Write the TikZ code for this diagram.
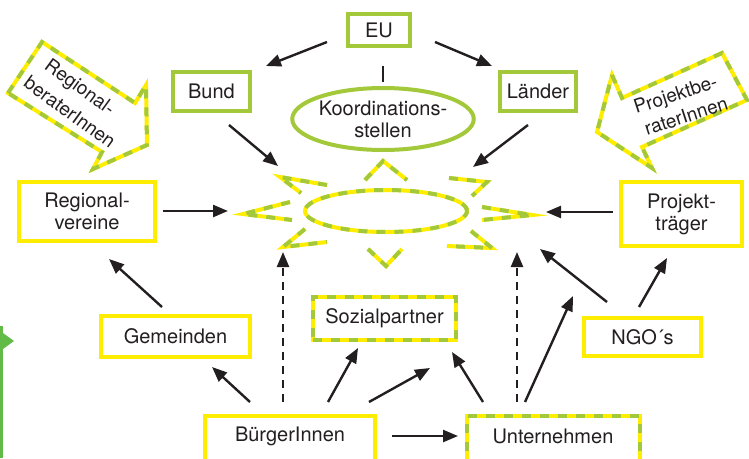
\documentclass[tikz,border=0pt]{standalone}
\usepackage{fontspec}
\setmainfont{TeX Gyre Heros}
\usetikzlibrary{arrows.meta,shapes.geometric}
\definecolor{yel}{RGB}{255,237,0}
\definecolor{grn}{RGB}{163,201,58}
\definecolor{dgrn}{RGB}{98,187,70}
\definecolor{ink}{RGB}{35,31,32}
\begin{document}
\begin{tikzpicture}[x=1pt,y=-1pt,
  lbl/.style={font=\fontsize{20}{22}\selectfont, text=ink, align=center},
  rlbl/.style={font=\fontsize{19}{22}\selectfont, text=ink, inner sep=0pt},
  ybox/.style={draw=yel, line width=4pt, fill=white, rectangle, inner sep=0pt, lbl},
  gbox/.style={draw=grn, line width=4pt, fill=white, rectangle, inner sep=0pt, lbl},
  dashgy/.style={draw=yel, line width=4pt, postaction={draw=grn, line width=4pt, dash pattern=on 9pt off 9pt}},
  dbox/.style={dashgy, fill=white, rectangle, inner sep=0pt, lbl},
  arr/.style={-{Triangle[length=15pt,width=12pt]}, line width=2.4pt, draw=ink},
  darr/.style={arr, dash pattern=on 8pt off 6pt},
  ray/.style={dashgy, line join=miter}
]
\useasboundingbox (0,0) rectangle (749,458);

% left green bar
\fill[dgrn] (0,326) rectangle (3,458);
\fill[dgrn] (3,333) -- (14,341) -- (3,349) -- cycle;

% big arrows
\draw[dashgy, fill=white] (8,93) -- (42,42) -- (135,103) -- (146,85) -- (147,145) -- (93,169) -- (102,152) -- cycle;
\node[rlbl, rotate=-36] (regber1) at (79,88) {Regional-};
\node[rlbl, rotate=-36] (regber2) at (70,112) {beraterInnen};
\draw[dashgy, fill=white] (612,75) -- (622,98) -- (722,53) -- (747,100) -- (642,147) -- (652,168) -- (597,132) -- cycle;
\node[rlbl, rotate=18] (projber1) at (676,96) {Projektbe-};
\node[rlbl, rotate=18] (projber2) at (686,116) {raterInnen};

% top nodes
\node[gbox, minimum width=62, minimum height=32] (eu) at (379,30) {EU};
\node[gbox, minimum width=77, minimum height=39] (bund) at (211.5,91.5) {Bund};
\node[gbox, minimum width=76, minimum height=39] (laender) at (538,91.5) {Länder};
\node[draw=grn, line width=4pt, ellipse, fill=white, inner sep=0pt, minimum width=170, minimum height=62, lbl] (koord) at (383,119) {Koordinations-\\stellen};

% sun
\node[dashgy, ellipse, minimum width=162, minimum height=42, inner sep=0pt] (sun) at (386,211) {};
\draw[ray] (365,180) -- (383,161) -- (407,180);
\draw[ray] (368,249) -- (386,266) -- (402,249);
\draw[ray] (290,202) -- (243,214) -- (292,220);
\draw[ray] (482,207) -- (532,215) -- (482,220);
\draw[ray] (327,185) -- (280,177) -- (301,193);
\draw[ray] (305,229) -- (283,247) -- (327,242);
\draw[ray] (449,178) -- (487,182) -- (472,196);
\draw[ray] (471,231) -- (492,248) -- (447,246);

% side nodes
\node[ybox, minimum width=136, minimum height=59] (regv) at (87,211.5) {Regional-\\vereine};
\node[ybox, minimum width=121, minimum height=64] (projt) at (681.5,214) {Projekt-\\träger};
\node[ybox, minimum width=149, minimum height=41] (gem) at (175.5,336) {Gemeinden};
\node[dbox, minimum width=143, minimum height=43] (sozial) at (384.5,318.5) {Sozialpartner};
\node[ybox, minimum width=117, minimum height=38] (ngo) at (642.5,337) {NGO´s};

% bottom nodes
\node[ybox, minimum width=170, minimum height=60, anchor=north] (buerger) at (290,414) {};
\node[lbl] (buergerT) at (290,436) {BürgerInnen};
\node[dbox, minimum width=173, minimum height=60, anchor=north] (untern) at (553,414) {};
\node[lbl] (game) at (553,436) {Unternehmen};

% connector end points
\coordinate (euL) at (327,42);   \coordinate (bundT) at (266,66);
\coordinate (euR) at (435,42);   \coordinate (laenT) at (492,66);
\coordinate (euB) at (383,66);   \coordinate (koT) at (383,82);
\coordinate (bundB) at (229,125); \coordinate (sunNW) at (278,166);
\coordinate (laenB) at (528,125); \coordinate (sunNE) at (473,167);
\coordinate (regvR) at (163,211); \coordinate (sunW) at (228,211);
\coordinate (projL) at (613,212); \coordinate (sunE) at (546,212);
\coordinate (gemT) at (162,307); \coordinate (regvB) at (109,259);
\coordinate (bu1) at (250,402);  \coordinate (gemB) at (212,367);
\coordinate (bu2) at (283,402);  \coordinate (sunSW) at (283,252);
\coordinate (bu3) at (328,402);  \coordinate (sozB1) at (358,348);
\coordinate (bu4) at (369,402);  \coordinate (sozB2) at (430,368);
\coordinate (buR) at (392,436);  \coordinate (unL) at (458,436);
\coordinate (un1) at (483,402);  \coordinate (sozB3) at (452,352);
\coordinate (un2) at (517,402);  \coordinate (sunSE) at (517,252);
\coordinate (un3) at (525,402);  \coordinate (ngoW) at (573,296);
\coordinate (ngo1) at (607,302); \coordinate (sunSE2) at (540,249);
\coordinate (ngo2) at (639,307); \coordinate (projB) at (667,258);

\draw[arr] (euL) -- (bundT);
\draw[arr] (euR) -- (laenT);
\draw[line width=2.4pt, draw=ink] (euB) -- (koT);
\draw[arr] (bundB) -- (sunNW);
\draw[arr] (laenB) -- (sunNE);
\draw[arr] (regvR) -- (sunW);
\draw[arr] (projL) -- (sunE);
\draw[arr] (gemT) -- (regvB);
\draw[arr] (bu1) -- (gemB);
\draw[darr] (bu2) -- (sunSW);
\draw[arr] (bu3) -- (sozB1);
\draw[arr] (bu4) -- (sozB2);
\draw[arr] (buR) -- (unL);
\draw[arr] (un1) -- (sozB3);
\draw[darr] (un2) -- (sunSE);
\draw[arr] (un3) -- (ngoW);
\draw[arr] (ngo1) -- (sunSE2);
\draw[arr] (ngo2) -- (projB);
\end{tikzpicture}
\end{document}
